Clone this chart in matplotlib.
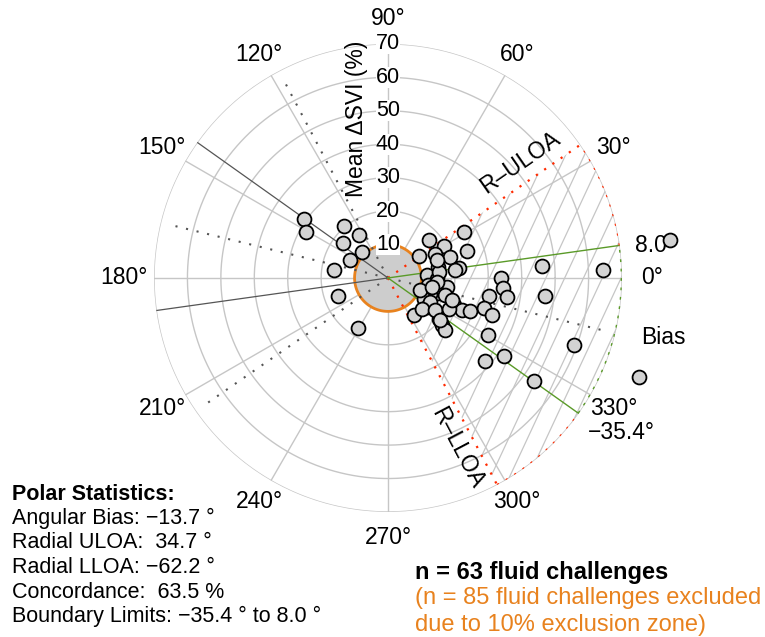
import numpy as np
import matplotlib.pyplot as plt
from matplotlib.patches import Wedge

plt.rcParams['font.family'] = ['Liberation Sans', 'DejaVu Sans']

# polar data: angle (deg) and mean delta SVI (%) for each fluid challenge
theta_deg = [144.6, 150.6, 130.7, 124.5, 142.5, 134.8, 154.0, 171.9, 200.1, 239.4,
             31.3, 42.9, 29.9, 35.7, 27.6, 18.8, 18.7, 8.1, 12.4, 4.0,
             -0.7, -8.7, -10.2, -17.1, -20.2, -30.1, -16.8, 0.0, -5.0, -9.1,
             -10.3, -22.6, -23.6, -22.0, -17.7, -19.4, -36.6, -55.5, -38.7, -41.2,
             -42.4, -29.7, 4.3, 2.1, 7.6, -6.6, -19.9, -40.7, -34.1, -35.4,
             -21.6, 6.5, 6.8, -4.7, -29.6, -42.0, -34.3, -26.8, -39.0, 19.9,
             -20.8, -11.9, -19.1]
radius = [30.7, 28.0, 20.4, 15.5, 17.0, 11.0, 12.5, 16.4, 15.9, 17.5,
          26.5, 16.6, 19.2, 11.3, 15.7, 19.5, 24.9, 21.3, 15.3, 11.7,
          14.7, 17.9, 12.3, 15.8, 13.5, 12.3, 17.9, 33.9, 34.4, 36.0,
          30.6, 21.3, 24.1, 26.6, 30.0, 33.0, 14.5, 13.5, 19.4, 21.5,
          23.2, 34.6, 46.2, 64.3, 85.0, 47.4, 59.3, 38.1, 41.8, 53.4,
          80.6, 20.3, 15.3, 14.7, 14.5, 13.7, 17.1, 20.3, 20.1, 15.6,
          10.3, 13.5, 20.3]

bias = -13.7
uloa = 34.7
lloa = -62.2
lim_lo = -35.4
lim_hi = 8.0
concordance = 63.5
excl_zone = 10
n_used = 63
n_excluded = 85

r_max = 70
angle_ticks = list(range(0, 360, 30))
radial_ticks = list(range(10, 80, 10))

grid_c = '#c6c6c6'
dark_c = '#555555'
red_c = '#ff2a00'
green_c = '#5a9a28'
orange_c = '#e8821e'


def fmt(v):
    s = f'{v:.1f}'
    return s.replace('-', '\u2212')


fig = plt.figure(figsize=(7.65, 6.37), dpi=100)
rect = [0.2013, 0.1963, 0.6118, 0.7347]

# hatch of the concordance sector, drawn in a cartesian axes underneath
axh = fig.add_axes(rect)
axh.set_xlim(-r_max, r_max)
axh.set_ylim(-r_max, r_max)
axh.axis('off')
wedge = Wedge((0, 0), r_max, lloa, uloa, facecolor='none', edgecolor='none',
              transform=axh.transData)
axh.add_patch(wedge)
a = np.deg2rad(65)
d = np.array([np.cos(a), np.sin(a)])
nv = np.array([np.sin(a), -np.cos(a)])
for c in np.arange(-100, 100, 5.1):
    p0 = c * nv - 120 * d
    p1 = c * nv + 120 * d
    ln, = axh.plot([p0[0], p1[0]], [p0[1], p1[1]], color=grid_c, lw=0.9)
    ln.set_clip_path(wedge)

ax = fig.add_axes(rect, projection='polar')
ax.set_facecolor('none')
ax.grid(False)
ax.set_xticks([])
ax.set_yticks([])
ax.spines['polar'].set_visible(False)

th = np.linspace(0, 2 * np.pi, 400)
for r in radial_ticks:
    ax.plot(th, np.full_like(th, r), color=grid_c, lw=1.0, zorder=1)
for t in angle_ticks:
    ax.plot([np.deg2rad(t)] * 2, [0, r_max], color=grid_c, lw=1.0, zorder=1)

# exclusion zone
ax.fill(th, np.full_like(th, excl_zone), facecolor='#cdcdcd', edgecolor=orange_c,
        lw=2.0, zorder=3)

dots = (0, (1, 4.2))
red_dots = (0, (1, 3.5))
# reflected lines
for t in [lim_lo + 180, lim_hi + 180]:
    ax.plot([np.deg2rad(t)] * 2, [0, r_max], color=dark_c, lw=0.9, zorder=4)
for t in [bias, bias + 180, uloa + 180, lloa + 180]:
    ax.plot([np.deg2rad(t)] * 2, [0, 68], color=dark_c, lw=1.5, ls=dots, zorder=4)
for t in [uloa, lloa]:
    ax.plot([np.deg2rad(t)] * 2, [0, r_max], color=red_c, lw=1.6, ls=red_dots, zorder=4)
for t in [lim_lo, lim_hi]:
    ax.plot([np.deg2rad(t)] * 2, [0, r_max], color=green_c, lw=1.0, zorder=4)

arc = np.deg2rad(np.linspace(lim_hi, uloa, 60))
ax.plot(arc, np.full_like(arc, r_max), color=red_c, lw=1.6, ls=red_dots, zorder=4)
arc = np.deg2rad(np.linspace(lloa, lim_lo, 60))
ax.plot(arc, np.full_like(arc, r_max), color=red_c, lw=1.6, ls=red_dots, zorder=4)
arc = np.deg2rad(np.linspace(lim_lo, lim_hi, 80))
ax.plot(arc, np.full_like(arc, r_max), color=green_c, lw=2.0, ls=(0, (1, 2.4)), zorder=4)

ax.plot(np.deg2rad(theta_deg), radius, 'o', ms=10, mfc='#d3d3d3', mec='black',
        mew=1.3, zorder=10, clip_on=False)

ax.set_ylim(0, r_max)

# angle labels
for t in angle_ticks:
    ar = np.deg2rad(t)
    rl = 76.5 + 2.5 * abs(np.cos(ar)) ** 4 + 1.0 * abs(np.sin(ar)) ** 4
    ax.text(ar, rl, f'{t}\u00b0', ha='center', va='center', fontsize=16.5)

ax.text(np.deg2rad(7.0), 80.5, f'{lim_hi:.1f}\u00b0', ha='center', va='center', fontsize=16.5)
ax.text(np.deg2rad(-33.6), 83.7, f'{fmt(lim_lo)}\u00b0', ha='center', va='center', fontsize=16.5)
ax.text(np.deg2rad(-12.3), 84.2, 'Bias', ha='center', va='center', fontsize=16.5)
ax.text(np.deg2rad(41.0), 52.4, 'R\u2013ULOA', ha='center', va='center', fontsize=16.5,
        rotation=uloa, rotation_mode='anchor')
ax.text(np.deg2rad(-67.9), 54.9, 'R\u2013LLOA', ha='center', va='center', fontsize=16.5,
        rotation=lloa, rotation_mode='anchor')

for r in radial_ticks:
    ax.text(np.pi / 2, r, str(r), ha='center', va='center', fontsize=15.5, zorder=12,
            bbox=dict(facecolor='white', edgecolor='none', pad=0))

fig.text(357 / 765, 1 - 119 / 637, 'Mean \u0394SVI (%)', rotation=90,
         ha='center', va='center', fontsize=16.5)

# statistics block
W, H = 765, 637
stats = [
    f'Angular Bias: {fmt(bias)} \u00b0',
    f'Radial ULOA:  {fmt(uloa)} \u00b0',
    f'Radial LLOA: {fmt(lloa)} \u00b0',
    f'Concordance:  {concordance:.1f} %',
    f'Boundary Limits: {fmt(lim_lo)} \u00b0 to {fmt(lim_hi)} \u00b0',
]
fig.text(12 / W, 1 - 494 / H, 'Polar Statistics:', fontsize=15.5, weight='bold', va='center')
for i, s in enumerate(stats):
    fig.text(12 / W, 1 - (518.5 + 24.5 * i) / H, s, fontsize=15.5, va='center')

fig.text(415 / W, 1 - 572 / H, f'n = {n_used} fluid challenges', fontsize=17,
         weight='bold', va='center')
fig.text(415 / W, 1 - 598 / H, f'(n = {n_excluded} fluid challenges excluded',
         fontsize=17, color=orange_c, va='center')
fig.text(415 / W, 1 - 625 / H, f'due to {excl_zone}% exclusion zone)',
         fontsize=17, color=orange_c, va='center')

fig.savefig('out.png', dpi=100)
